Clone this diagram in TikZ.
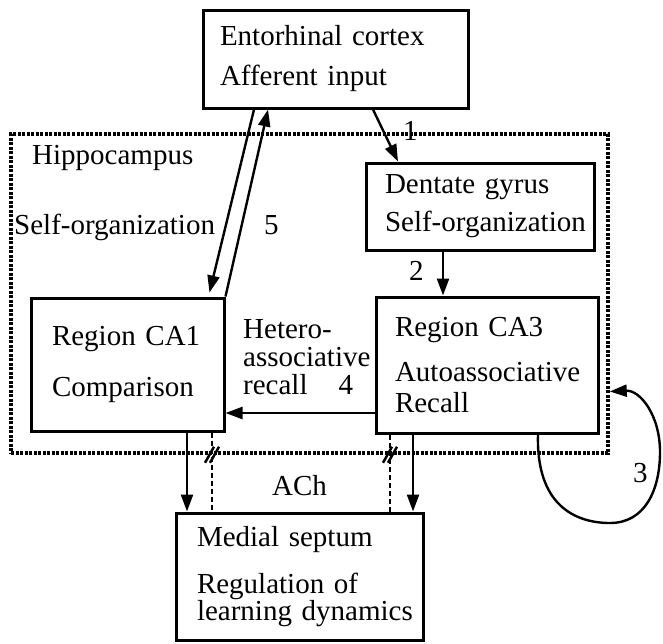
\documentclass[tikz,border=0pt]{standalone}
\usepackage{fontspec}
\setmainfont{Liberation Serif}
\usetikzlibrary{arrows.meta}

\begin{document}
\begin{tikzpicture}[
  x=1pt, y=-1pt,
  box/.style={rectangle, draw, line width=3pt, align=left, inner ysep=0pt,
              font=\fontsize{29}{27}\selectfont},
  lbl/.style={inner sep=0pt, font=\fontsize{29}{27}\selectfont},
  arr/.style={-{Triangle[length=17pt, width=12pt]}, line width=2.4pt},
  region/.style={draw, dash pattern=on 3pt off 1.5pt, line width=3.5pt,
                 minimum width=597pt, minimum height=319pt, inner sep=0pt},
  ach/.style={dash pattern=on 5pt off 3pt, line width=2pt},
  hatch/.style={line width=2.5pt},
]
\useasboundingbox (0,0) rectangle (663,643);

\node[region] (hip) at (309.5,293.5) {};
\node[lbl, anchor=base west] (hiplbl) at (32,164) {Hippocampus};

\node[box, inner xsep=17pt, text width=231pt, minimum height=98pt] (ec) at (335.5,59)
  {Entorhinal cortex\\[13pt]Afferent input};
\node[box, inner xsep=19pt, text width=190pt, minimum height=87pt] (dg) at (480,206.5)
  {Dentate gyrus\\[11pt]\mbox{Self-organization}};
\node[box, inner xsep=19pt, text width=184pt, minimum height=136pt] (ca3) at (487,365)
  {Region CA3\\[18pt]\mbox{Autoassociative}\\[4pt]Recall};
\node[box, inner xsep=21pt, text width=151pt, minimum height=133pt] (ca1) at (127.5,364.5)
  {Region CA1\\[24pt]Comparison};
\node[box, inner xsep=21pt, text width=205pt, minimum height=127pt] (ms) at (299.5,576.5)
  {Medial septum\\[20pt]Regulation of\\\mbox{learning dynamics}};

\node[lbl, anchor=north west, align=left, font=\fontsize{29}{28}\selectfont] (hetero) at (243,319)
  {Hetero-\\associative\\recall\hspace{31pt}4};
\node[lbl, anchor=base west] (selforg) at (14,234) {Self-organization};
\node[lbl, anchor=base west] (five) at (264,234) {5};
\node[lbl, anchor=base west] (one) at (403,140) {1};
\node[lbl, anchor=base west] (two) at (409,280) {2};
\node[lbl, anchor=base west] (three) at (633,482) {3};
\node[lbl, anchor=base west] (ach) at (272,495) {ACh};

\draw[arr] ([xshift=-81.5pt]ec.south) -- ([xshift=82pt,yshift=4pt]ca1.north);
\draw[arr] (ca1.north east) -- ([xshift=-67.5pt]ec.south);
\draw[arr] ([xshift=37.5pt]ec.south) -- ([xshift=-82pt]dg.north);
\draw[arr] ([xshift=-37pt]dg.south) -- ([xshift=-37pt]dg.south |- ca3.north);
\draw[arr] ([yshift=-48pt]ca3.west) -- ([yshift=-48pt]ca3.west -| ca1.east);
\draw[arr] ([xshift=59.5pt]ca1.south) -- ([xshift=59.5pt]ca1.south |- ms.north);
\draw[arr] ([xshift=-74pt]ca3.south) -- ([xshift=-74pt]ca3.south |- ms.north);
\draw[arr] ([xshift=51pt]ca3.south) .. controls (536,505) and (575,523) .. (610,523)
  .. controls (645,523) and (660,490) .. (660,452)
  .. controls (660,415) and (640,390) .. ([yshift=-98pt]hip.east);

\coordinate (achone) at ([xshift=84.5pt]ca1.south);
\coordinate (achthree) at ([xshift=-97pt]ca3.south);
\draw[ach] (achone) -- (achone |- ms.north);
\draw[ach] (achthree) -- (achthree |- ms.north);
\coordinate (cutone) at (achone |- hip.south);
\coordinate (cutthree) at (achthree |- hip.south);
\foreach \c in {cutone, cutthree}
  \foreach \d in {-7, -2}
    \draw[hatch] ([xshift=\d pt, yshift=-8pt]\c) -- ([xshift=\d pt + 9pt, yshift=8pt]\c);
\end{tikzpicture}
\end{document}
